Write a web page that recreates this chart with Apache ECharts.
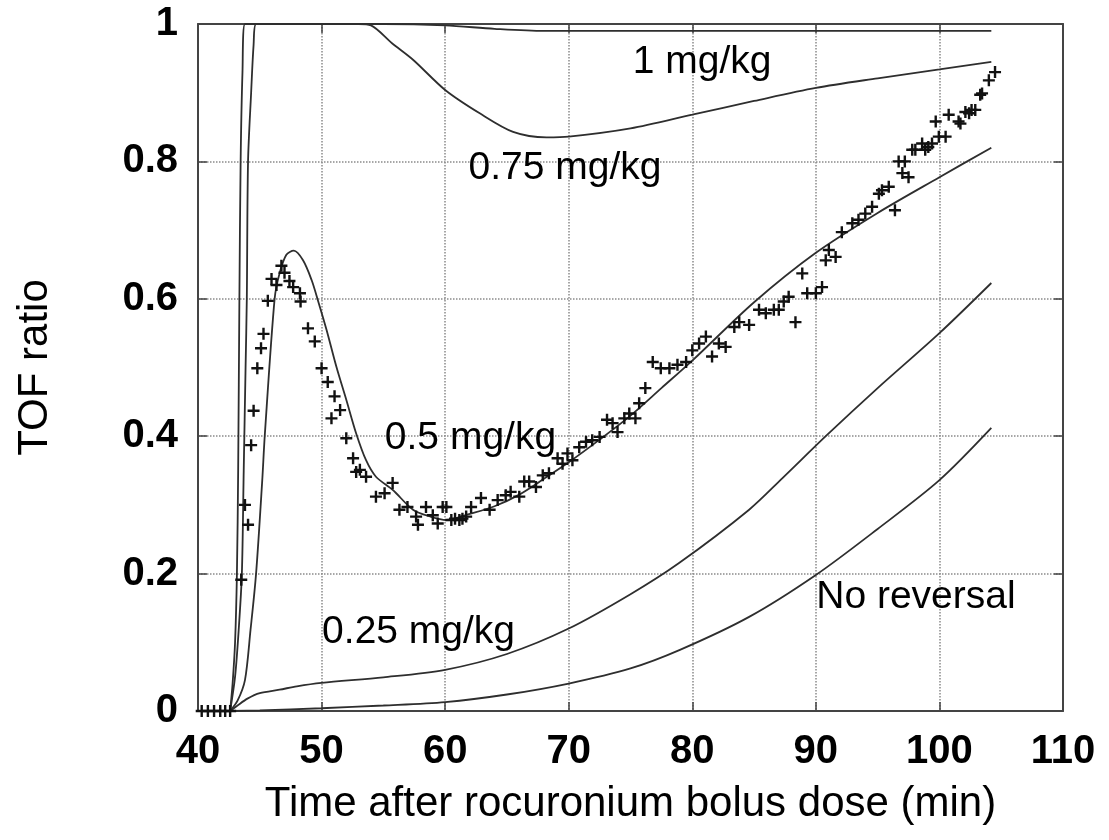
<!DOCTYPE html>
<html>
<head>
<meta charset="utf-8">
<script src="https://cdn.jsdelivr.net/npm/echarts@6/dist/echarts.min.js"></script>
<style>
html,body{margin:0;padding:0;background:#fff;}
#chart{width:1109px;height:840px;}
</style>
</head>
<body>
<div id="chart"></div>
<script>
// ---- Data ----
const xTicks = [40, 50, 60, 70, 80, 90, 100, 110];
const yTicks = [0, 0.2, 0.4, 0.6, 0.8, 1];

const dose1T = [42.6, 42.8, 43.0, 43.15, 43.25, 43.35, 43.45, 43.6, 43.8, 44.5, 55, 60, 64, 68, 80, 90, 104.2];
const dose1V = [0, 0.04, 0.1, 0.2, 0.35, 0.6, 0.8, 0.93, 1.0, 1.0, 1.0, 0.998, 0.993, 0.99, 0.99, 0.99, 0.99];

const dose075T = [42.6, 43.0, 43.3, 43.55, 43.7, 43.85, 43.95, 44.05, 44.3, 44.5, 44.7, 50, 53, 54, 55.7, 57.4, 60, 62.8, 65.5, 68.2, 70, 75, 80, 85, 90, 95, 100, 104.2];
const dose075V = [0, 0.05, 0.12, 0.2, 0.35, 0.5, 0.6, 0.8, 0.9, 0.97, 1.0, 1.0, 1.0, 0.998, 0.972, 0.948, 0.904, 0.87, 0.843, 0.835, 0.836, 0.848, 0.868, 0.888, 0.907, 0.921, 0.934, 0.945];

const dose05T = [42.6, 43.2, 43.8, 44.25, 44.7, 45.2, 45.4, 46.2, 46.6, 47.15, 47.75, 48.5, 49.2, 49.7, 50.4, 51.2, 52, 52.8, 53.6, 54.4, 55.75, 57.4, 58.8, 60.1, 62, 64, 66, 68, 70, 72.5, 75, 77.5, 80, 85, 90, 95, 100, 104.2];
const dose05V = [0, 0.015, 0.045, 0.118, 0.2, 0.336, 0.4, 0.6, 0.637, 0.664, 0.67, 0.656, 0.627, 0.598, 0.555, 0.501, 0.453, 0.404, 0.365, 0.341, 0.322, 0.293, 0.283, 0.278, 0.287, 0.298, 0.315, 0.338, 0.362, 0.395, 0.43, 0.47, 0.51, 0.595, 0.667, 0.725, 0.777, 0.82];

const dose025T = [42.6, 43.2, 44, 45, 46.6, 48, 50, 55, 60, 65, 70, 75, 78.9, 84.6, 87.3, 90.8, 95, 100, 104.2];
const dose025V = [0, 0.008, 0.018, 0.026, 0.031, 0.036, 0.041, 0.049, 0.06, 0.083, 0.12, 0.17, 0.215, 0.293, 0.339, 0.40, 0.47, 0.55, 0.623];

const noRevT = [42.6, 45, 50, 55, 60, 65, 70, 75, 79, 84.6, 90, 95, 100, 104.2];
const noRevV = [0, 0.001, 0.004, 0.008, 0.013, 0.024, 0.04, 0.062, 0.089, 0.137, 0.198, 0.265, 0.336, 0.412];

const obsT = [40.3, 40.8, 41.3, 41.8, 42.2, 42.6, 43.5, 43.8, 44.05, 44.3, 44.5, 44.8, 45.1, 45.3, 45.65, 45.95, 46.35, 46.75, 47.0, 47.4, 47.7, 48.25, 48.3, 48.9, 49.45, 50.0, 50.5, 50.8, 51.05, 51.5, 52.0, 52.55, 52.8, 53.1, 53.6, 54.4, 55.1, 55.75, 56.3, 56.95, 57.65, 57.8, 58.45, 59.0, 59.4, 59.8, 60.1, 60.5, 60.8, 61.15, 61.4, 61.7, 62.1, 62.9, 63.6, 64.25, 64.9, 65.3, 66.0, 66.4, 66.8, 67.35, 67.9, 68.4, 69.1, 69.5, 69.9, 70.3, 70.85, 71.4, 71.9, 72.5, 73.1, 73.55, 73.95, 74.5, 74.9, 75.4, 75.7, 76.2, 76.8, 77.45, 78.15, 78.8, 79.5, 80.0, 80.55, 81.1, 81.6, 82.15, 82.7, 83.4, 83.8, 84.6, 85.4, 85.95, 86.6, 87.0, 87.4, 87.8, 88.35, 88.9, 89.3, 90.0, 90.5, 90.8, 91.05, 91.6, 92.1, 92.95, 93.45, 94.0, 94.55, 95.1, 95.35, 95.9, 96.4, 96.7, 97.0, 97.2, 97.5, 97.8, 98.05, 98.6, 98.85, 99.1, 99.4, 99.7, 99.95, 100.5, 100.75, 101.55, 101.7, 102.1, 102.4, 102.6, 102.9, 103.3, 103.45, 104.0, 104.5];
const obsV = [0, 0, 0, 0, 0, 0, 0.191, 0.3, 0.271, 0.387, 0.437, 0.499, 0.528, 0.549, 0.597, 0.629, 0.62, 0.648, 0.638, 0.626, 0.617, 0.608, 0.596, 0.557, 0.538, 0.499, 0.479, 0.426, 0.458, 0.438, 0.397, 0.368, 0.348, 0.351, 0.341, 0.312, 0.317, 0.332, 0.293, 0.297, 0.283, 0.271, 0.297, 0.285, 0.273, 0.297, 0.297, 0.278, 0.28, 0.278, 0.28, 0.283, 0.297, 0.31, 0.293, 0.307, 0.314, 0.319, 0.312, 0.334, 0.334, 0.326, 0.343, 0.346, 0.368, 0.36, 0.375, 0.365, 0.384, 0.392, 0.394, 0.399, 0.424, 0.419, 0.406, 0.426, 0.433, 0.426, 0.448, 0.47, 0.508, 0.499, 0.499, 0.504, 0.508, 0.525, 0.535, 0.545, 0.516, 0.535, 0.53, 0.559, 0.566, 0.562, 0.584, 0.579, 0.584, 0.584, 0.596, 0.603, 0.566, 0.637, 0.608, 0.608, 0.617, 0.656, 0.671, 0.661, 0.697, 0.71, 0.715, 0.724, 0.734, 0.753, 0.758, 0.763, 0.729, 0.8, 0.783, 0.8, 0.777, 0.817, 0.817, 0.826, 0.817, 0.821, 0.826, 0.858, 0.836, 0.836, 0.868, 0.858, 0.855, 0.872, 0.87, 0.875, 0.875, 0.897, 0.899, 0.918, 0.93];

const labelTexts = ['1 mg/kg', '0.75 mg/kg', '0.5 mg/kg', '0.25 mg/kg', 'No reversal'];
const labelAtT = [80.8, 69.7, 62.05, 57.85, 98.1];
const labelAtV = [0.945, 0.79, 0.397, 0.115, 0.165];

const xTitle = 'Time after rocuronium bolus dose (min)';
const yTitle = 'TOF ratio';

// ---- Build chart ----
const FONT = '"Liberation Sans", Arial, Helvetica, sans-serif';
const pair = (ts, vs) => ts.map((t, i) => [t, vs[i]]);
const lineColor = '#2e2e2e';
const frameColor = '#444444';
const textColor = '#000000';

function curve(name, ts, vs) {
  return {
    name, type: 'line', xAxisIndex: 0, yAxisIndex: 0,
    data: pair(ts, vs), showSymbol: false, smooth: 0.3,
    lineStyle: { color: lineColor, width: 1.8, opacity: 1 }, clip: true, silent: true, z: 3
  };
}

const chart = echarts.init(document.getElementById('chart'), null, { renderer: 'canvas' });
const xMin = xTicks[0], xMax = xTicks[xTicks.length - 1], xInt = xTicks[1] - xTicks[0];
const yMin = yTicks[0], yMax = yTicks[yTicks.length - 1], yInt = yTicks[1] - yTicks[0];

const baseX = {
  type: 'value', min: xMin, max: xMax, interval: xInt,
  axisLine: { show: true, onZero: false, lineStyle: { color: frameColor, width: 2 } },
  axisTick: { show: true, inside: true, length: 9, lineStyle: { color: frameColor, width: 1.5 } },
};
const baseY = {
  type: 'value', min: yMin, max: yMax, interval: yInt,
  axisLine: { show: true, onZero: false, lineStyle: { color: frameColor, width: 2 } },
  axisTick: { show: true, inside: true, length: 9, lineStyle: { color: frameColor, width: 1.5 } },
};

chart.setOption({
  animation: false,
  backgroundColor: '#fff',
  grid: { left: 198, right: 46, top: 24, bottom: 129, containLabel: false },
  xAxis: [
    Object.assign({}, baseX, {
      position: 'bottom',
      name: xTitle, nameLocation: 'middle', nameGap: 72,
      nameTextStyle: { fontFamily: FONT, fontSize: 42, color: textColor },
      axisLabel: { show: true, margin: 21, fontFamily: FONT, fontSize: 40, fontWeight: 'bold', color: textColor },
      splitLine: { show: true, lineStyle: { type: 'dotted', color: '#8a8a8a', width: 1.5 } }
    }),
    Object.assign({}, baseX, {
      position: 'top', axisLabel: { show: false }, splitLine: { show: false }
    })
  ],
  yAxis: [
    Object.assign({}, baseY, {
      position: 'left',
      name: yTitle, nameLocation: 'middle', nameGap: 142,
      nameTextStyle: { fontFamily: FONT, fontSize: 42, color: textColor },
      axisLabel: { show: true, margin: 20, fontFamily: FONT, fontSize: 40, fontWeight: 'bold', color: textColor },
      splitLine: { show: true, lineStyle: { type: 'dotted', color: '#8a8a8a', width: 1.5 } }
    }),
    Object.assign({}, baseY, {
      position: 'right', axisLabel: { show: false }, splitLine: { show: false }
    })
  ],
  series: [
    curve('1 mg/kg', dose1T, dose1V),
    curve('0.75 mg/kg', dose075T, dose075V),
    curve('0.5 mg/kg', dose05T, dose05V),
    curve('0.25 mg/kg', dose025T, dose025V),
    curve('No reversal', noRevT, noRevV),
    {
      name: 'Observed', type: 'scatter', xAxisIndex: 0, yAxisIndex: 0,
      data: pair(obsT, obsV),
      symbol: 'path://M4,0H6V4H10V6H6V10H4V6H0V4H4Z',
      symbolSize: 12,
      itemStyle: { color: '#111', opacity: 1 }, silent: true, z: 4
    },
    {
      name: 'labels', type: 'scatter', xAxisIndex: 0, yAxisIndex: 0,
      data: labelTexts.map((s, i) => ({ name: s, value: [labelAtT[i], labelAtV[i]] })),
      symbolSize: 0, silent: true, z: 5,
      itemStyle: { opacity: 1 },
      label: {
        show: true, position: 'inside', formatter: '{b}', opacity: 1,
        fontFamily: FONT, fontSize: 39, color: textColor
      }
    }
  ]
});
</script>
</body>
</html>
